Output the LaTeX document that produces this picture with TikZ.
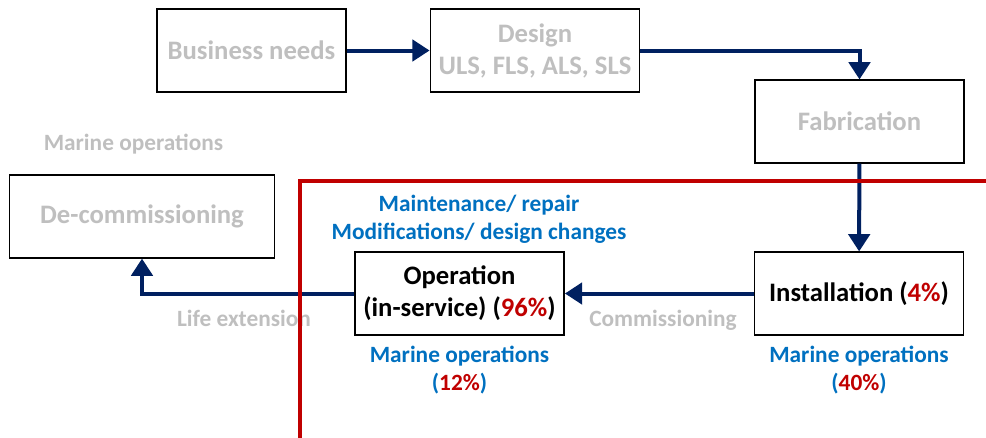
\documentclass[tikz,border=0pt]{standalone}
\usepackage{fontspec}
\setmainfont{Carlito}
\usetikzlibrary{arrows.meta,positioning}
\definecolor{navy}{RGB}{0,32,96}
\definecolor{darkred}{RGB}{192,0,0}
\definecolor{opblue}{RGB}{0,112,192}
\definecolor{lightgray}{RGB}{191,191,191}

\begin{document}
\begin{tikzpicture}[x=0.75pt,y=-0.75pt,font=\fontsize{20}{24}\selectfont\bfseries]
\tikzstyle {box}=[rectangle, minimum width=157pt, minimum height=62pt, draw=black, line width=1.1pt, fill=white, align=center]
\tikzstyle {boxg}=[box, text=lightgray]
\tikzstyle {boxk}=[box, text=black]
\tikzstyle {txtg}=[text=lightgray, align=center, font=\fontsize{17.5}{21}\selectfont\bfseries]
\tikzstyle {txtb}=[text=opblue, align=center, font=\fontsize{17.5}{21}\selectfont\bfseries]
\tikzstyle {arr}=[draw=navy, line width=3pt, -{Triangle[length=13pt,width=16pt]}]
\useasboundingbox (0,0) rectangle (986,437);

\node (business) [boxg, minimum width=142pt] at (251.5,50.5) {Business needs};
\node (design) [boxg] at (535,50.5) {Design\\ULS, FLS, ALS, SLS};
\node (fab) [boxg] at (859.5,121.5) {Fabrication};
\node (decomm) [boxg, minimum width=199pt] at (142,216.5) {De-commissioning};
\node (oper) [boxk] at (459.5,293.5) {Operation\\(in-service) (\textcolor{darkred}{96\%})};
\node (inst) [boxk] at (859,293.5) {Installation (\textcolor{darkred}{4\%})};

\node (marinedc) [txtg] at (133.5,144) {Marine operations};
\node (life) [txtg] at (244,318) {Life extension};
\node (comm) [txtg] at (663,320) {Commissioning};
\node (maint) [txtb] at (479,219) {Maintenance/ repair\\Modifications/ design changes};
\node (marineop) [txtb, below=4pt of oper] {Marine operations\\(\textcolor{darkred}{12\%})};
\node (marinein) [txtb, below=4pt of inst] {Marine operations\\(\textcolor{darkred}{40\%})};

\draw[arr] (business) -- (design);
\draw[arr] (design.east) -| (fab.north);
\draw[arr] (fab) -- (inst);
\draw[arr] (inst) -- (oper);
\draw[arr] (oper.west) -| (decomm.south);

% scope of in-service phase
\coordinate (redbot) at (300,440);
\coordinate (redtop) at (300,181);
\coordinate (redend) at (990,181);
\draw[darkred, line width=2.4pt] (redbot) -- (redtop) -- (redend);
\end{tikzpicture}
\end{document}
